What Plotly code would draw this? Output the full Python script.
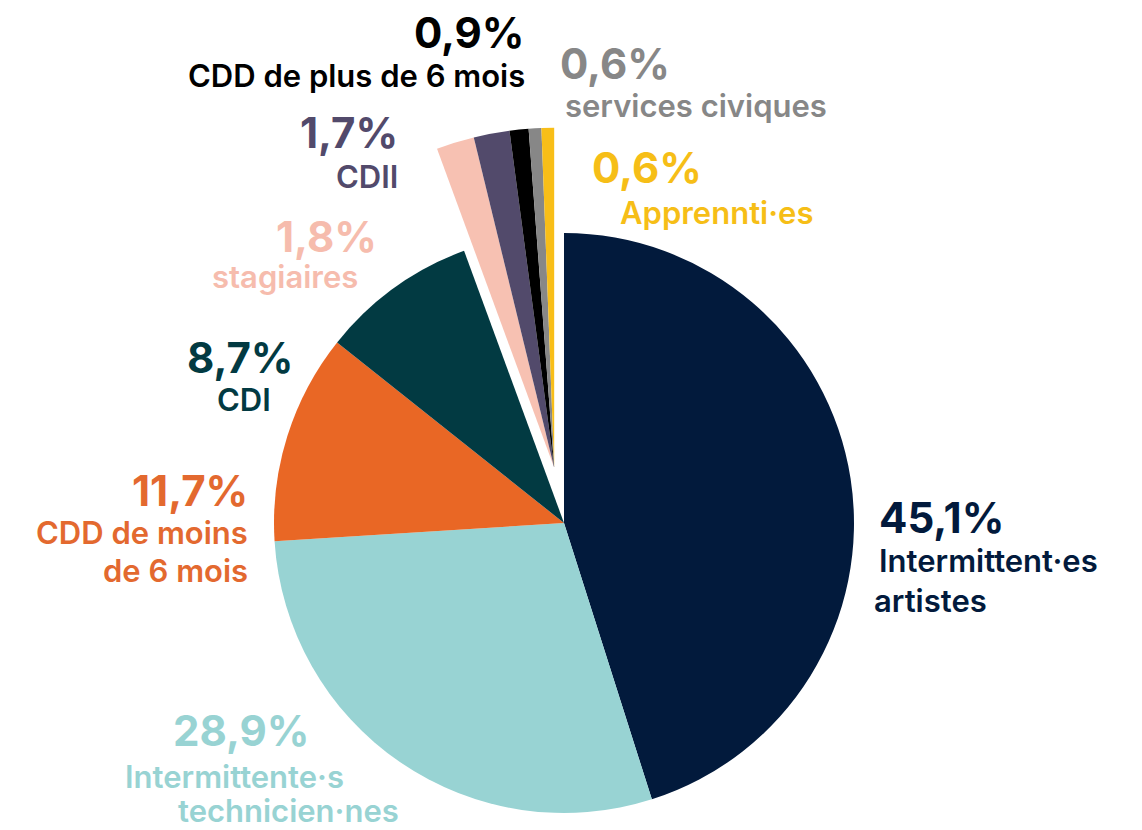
import math
import plotly.graph_objects as go

# data
categories = ["Intermittent·es artistes", "Intermittente·s technicien·nes",
              "CDD de moins de 6 mois", "CDI", "stagiaires", "CDII",
              "CDD de plus de 6 mois", "services civiques", "Apprennti·es"]
values = [45.1, 28.9, 11.7, 8.7, 1.8, 1.7, 0.9, 0.6, 0.6]
name_lines = [["Intermittent·es", "artistes"], ["Intermittente·s", "technicien·nes"],
              ["CDD de moins", "de 6 mois"], ["CDI"], ["stagiaires"], ["CDII"],
              ["CDD de plus de 6 mois"], ["services civiques"], ["Apprennti·es"]]
detached = [False, False, False, False, True, True, True, True, True]

colors = ["#021a3c", "#98d3d3", "#e96725", "#023a42", "#f7c1b2",
          "#524a6b", "#000000", "#878787", "#f8be18"]
text_colors = ["#021a3c", "#98d3d3", "#e3692f", "#023a42", "#f6bcad",
               "#524a6b", "#000000", "#878787", "#f6be17"]

W, H = 1142, 830
OFF = 8                        # page margin around the figure
CX, CY, R = 564, 523, 290      # main pie centre / radius (px, page coords)
GROUP_PULL = 56                # detached group pulled along its mid angle (px)
GROUP_R = 340
FONT = "Inter"

# label placement (px): (x, y, xanchor) for the percentage, then one per name line
pct_pos = [(877, 517, "left"), (241, 730, "center"), (250, 490, "right"),
           (240, 357, "center"), (326, 237, "center"), (400, 133, "right"),
           (527, 32, "right"), (558, 63, "left"), (590, 168, "left")]
name_pos = [[(877, 560, "left"), (872, 600, "left")],
            [(234, 776, "center"), (288, 810, "center")],
            [(250, 532, "right"), (250, 570, "right")],
            [(244, 399, "center")], [(285, 276, "center")], [(400, 176, "right")],
            [(527, 76, "right")], [(563, 106, "left")], [(618, 212, "left")]]


def px(x, y):
    return (x - OFF) / W, 1 - (y - OFF) / H


def domain(cx, cy, r):
    x0, y0 = px(cx - r, cy + r)
    x1, y1 = px(cx + r, cy - r)
    return dict(x=[x0, x1], y=[y0, y1])


total = sum(values)
before = sum(v for v, d in zip(values, detached) if not d)
group = sum(v for v, d in zip(values, detached) if d)
mid = 2 * math.pi * (before + group / 2) / total
gx = CX + GROUP_PULL * math.sin(mid)
gy = CY - GROUP_PULL * math.cos(mid)

clear = "rgba(0,0,0,0)"
fig = go.Figure()
for is_group, (cx, cy, r) in [(False, (CX, CY, R)), (True, (gx, gy, GROUP_R))]:
    cols = [c if d == is_group else clear for c, d in zip(colors, detached)]
    fig.add_trace(go.Pie(
        labels=categories, values=values, sort=False, direction="clockwise",
        rotation=0, textinfo="none", hoverinfo="label+percent",
        marker=dict(colors=cols, line=dict(width=0)),
        domain=domain(cx, cy, r), showlegend=False,
    ))

annotations = []
for i in range(len(values)):
    pct = f"{values[i]:.1f}%".replace(".", ",")
    x, y, xa = pct_pos[i]
    ax, ay = px(x, y)
    annotations.append(dict(x=ax, y=ay, xref="paper", yref="paper",
                            text=pct, showarrow=False, xanchor=xa, yanchor="middle",
                            font=dict(family=FONT, size=42, color=text_colors[i], weight=700)))
    for line, (x, y, xa) in zip(name_lines[i], name_pos[i]):
        ax, ay = px(x, y)
        annotations.append(dict(x=ax, y=ay, xref="paper", yref="paper",
                                text=line, showarrow=False, xanchor=xa, yanchor="middle",
                                font=dict(family=FONT, size=31, color=text_colors[i], weight=600)))

fig.update_layout(
    width=W, height=H,
    margin=dict(l=0, r=0, t=0, b=0),
    paper_bgcolor="white", plot_bgcolor="white",
    annotations=annotations,
)

fig.write_html("out.html")
